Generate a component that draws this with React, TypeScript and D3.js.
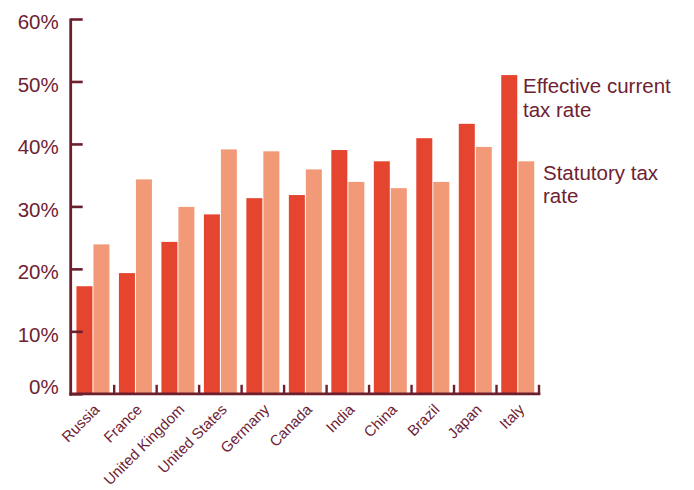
import React from "react";
import * as d3 from "d3";

const countries = ["Russia", "France", "United Kingdom", "United States", "Germany", "Canada", "India", "China", "Brazil", "Japan", "Italy"];
const effectiveRate = [17.3, 19.4, 24.4, 28.8, 31.4, 31.9, 39.1, 37.3, 41.0, 43.3, 51.1];
const statutoryRate = [24.0, 34.4, 30.0, 39.2, 38.9, 36.0, 34.0, 33.0, 34.0, 39.6, 37.3];
const yTicks = [0, 10, 20, 30, 40, 50, 60];
const seriesNames = ["Effective current|tax rate", "Statutory tax|rate"];

const W = 694, H = 490;
const X0 = 71.7, X1 = 539;
const Y0 = 394.3, Y1 = 19.5;
const AXIS = "#6c1f2c";
const TEXT = "#6e2232";
const C_EFF = "#e5452f";
const C_STAT = "#f29a78";
const FONT = "'Liberation Sans', Arial, Helvetica, sans-serif";

export default function App() {
  const x = d3.scaleBand<string>().domain(countries).range([X0, X1]).paddingInner(0).paddingOuter(0);
  const y = d3.scaleLinear().domain([0, 60]).range([Y0, Y1]);
  const bw = 16, gap = 1;
  const inner = (x.bandwidth() - (2 * bw + gap)) / 2;
  const lastI = countries.length - 1;
  const legendX = [523, 543];
  const legendVals = [effectiveRate[lastI], statutoryRate[lastI]];

  return (
    <svg width={W} height={H} style={{ position: "absolute", left: 0, top: 0, background: "#fff" }} fontFamily={FONT}>
      {countries.map((c, i) => {
        const bx = (x(c) as number) + inner;
        return (
          <g key={c}>
            <rect x={bx} y={y(effectiveRate[i])} width={bw} height={Y0 - y(effectiveRate[i])} fill={C_EFF} />
            <rect x={bx + bw + gap} y={y(statutoryRate[i])} width={bw} height={Y0 - y(statutoryRate[i])} fill={C_STAT} />
          </g>
        );
      })}
      {/* y axis */}
      <line x1={X0 - 1} x2={X0 - 1} y1={Y1 - 1} y2={Y0 + 1.5} stroke={AXIS} strokeWidth={2.8} />
      {yTicks.map((t) => (
        <g key={t}>
          <line x1={X0 - 1} x2={X0 + 11} y1={y(t)} y2={y(t)} stroke={AXIS} strokeWidth={2.6} />
          <text x={58.7} y={t === 0 ? y(t) : y(t) + 9.8} textAnchor="end" fill={TEXT} fontSize={20.5}>
            {t}%
          </text>
        </g>
      ))}
      {/* x axis */}
      <line x1={X0 - 2.4} x2={X1 + 1.3} y1={Y0 - 0.5} y2={Y0 - 0.5} stroke={AXIS} strokeWidth={2.8} />
      {countries.map((c) => (
        <line key={"t" + c} x1={(x(c) as number) + x.bandwidth()} x2={(x(c) as number) + x.bandwidth()} y1={Y0 - 9.5} y2={Y0} stroke={AXIS} strokeWidth={2.4} />
      ))}
      {countries.map((c) => {
        const cx = (x(c) as number) + x.bandwidth() / 2 + 7.5;
        const cy = 410.5;
        return (
          <text key={"l" + c} transform={`translate(${cx},${cy}) rotate(-45)`} textAnchor="end" fill={TEXT} fontSize={15}>
            {c}
          </text>
        );
      })}
      {/* legend labels */}
      {seriesNames.map((s, k) => {
        const lines = s.split("|");
        const top = y(legendVals[k]);
        return (
          <text key={s} x={legendX[k]} y={top + 18.3} fill={TEXT} fontSize={20.5}>
            {lines.map((ln, j) => (
              <tspan key={j} x={legendX[k]} dy={j === 0 ? 0 : 23.4}>
                {ln}
              </tspan>
            ))}
          </text>
        );
      })}
    </svg>
  );
}
